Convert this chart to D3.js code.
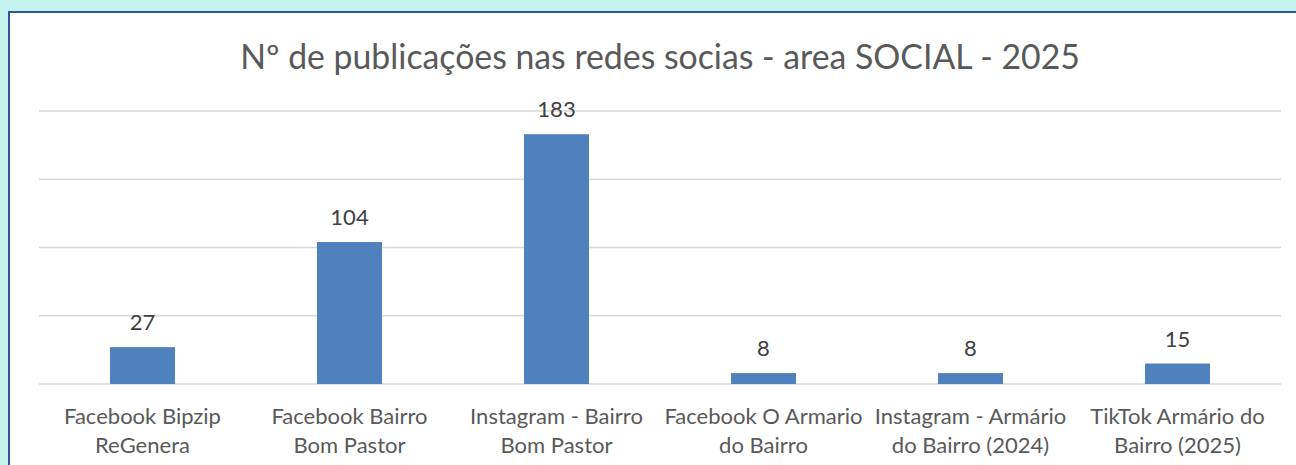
<!DOCTYPE html>
<html>
<head>
<meta charset="utf-8">
<script src="https://cdn.jsdelivr.net/npm/d3@7"></script>
<style>
  body { margin: 0; background: #c5f1ee; }
  svg { display: block; font-family: Lato, "Open Sans", sans-serif; }
</style>
</head>
<body>
<svg id="chart" width="1296" height="465"></svg>
<script>
const title = "Nº de publicações nas redes socias - area SOCIAL - 2025";
const categories = [
  "Facebook Bipzip\nReGenera",
  "Facebook Bairro\nBom Pastor",
  "Instagram - Bairro\nBom Pastor",
  "Facebook O Armario\ndo Bairro",
  "Instagram - Armário\ndo Bairro (2024)",
  "TikTok Armário do\nBairro (2025)"
];
const values = [27, 104, 183, 8, 8, 15];
const yTicks = [0, 50, 100, 150, 200];

const width = 1296, height = 465;
const plot = {left: 39, right: 1281, top: 111, bottom: 384};

const svg = d3.select("#chart");

svg.append("rect")
  .attr("width", width).attr("height", height)
  .attr("fill", "#c5f1ee");

svg.append("rect")
  .attr("x", 9).attr("y", 12)
  .attr("width", 1300).attr("height", 470)
  .attr("fill", "#ffffff")
  .attr("stroke", "#2f5597")
  .attr("stroke-width", 2);

const x = d3.scaleBand()
  .domain(categories)
  .range([plot.left, plot.right])
  .paddingInner(0.686)
  .paddingOuter(0.343);

const y = d3.scaleLinear()
  .domain([0, 200])
  .range([plot.bottom, plot.top]);

// gridlines
svg.append("g").selectAll("line")
  .data(yTicks).enter().append("line")
  .attr("x1", plot.left).attr("x2", plot.right)
  .attr("y1", d => y(d)).attr("y2", d => y(d))
  .attr("stroke", "#d9d9d9")
  .attr("stroke-width", 1.5);

// bars
svg.append("g").selectAll("rect")
  .data(values).enter().append("rect")
  .attr("x", (d, i) => x(categories[i]))
  .attr("y", d => y(d))
  .attr("width", x.bandwidth())
  .attr("height", d => y(0) - y(d))
  .attr("fill", "#4f81bd");

// fit a font size so that text has the target width
function fit_size(txt, target, base) {
  let t = svg.append("text").attr("font-size", base).text(txt);
  let w = t.node().getComputedTextLength();
  t.remove();
  return base * target / w;
}

const labelSize = fit_size("Facebook Bipzip", 157, 20);
const titleSize = fit_size(title, 840, 30);

// value labels
svg.append("g").selectAll("text")
  .data(values).enter().append("text")
  .attr("x", (d, i) => x(categories[i]) + x.bandwidth() / 2)
  .attr("y", d => y(d) - 17)
  .attr("text-anchor", "middle")
  .attr("font-size", labelSize)
  .attr("fill", "#404040")
  .text(d => d);

// category labels
const cat = svg.append("g").selectAll("text")
  .data(categories).enter().append("text")
  .attr("text-anchor", "middle")
  .attr("font-size", labelSize)
  .attr("fill", "#595959");

cat.selectAll("tspan")
  .data(d => d.split("\n").map(s => ({s, c: d})))
  .enter().append("tspan")
  .attr("x", d => x(d.c) + x.bandwidth() / 2)
  .attr("y", (d, i) => 424 + i * 28.5)
  .text(d => d.s);

// title
svg.append("text")
  .attr("x", (plot.left + plot.right) / 2)
  .attr("y", 69)
  .attr("text-anchor", "middle")
  .attr("font-size", titleSize)
  .attr("fill", "#595959")
  .text(title);
</script>
</body>
</html>
